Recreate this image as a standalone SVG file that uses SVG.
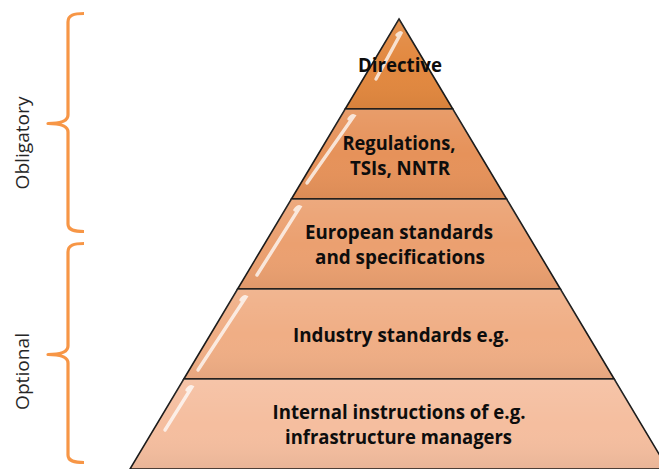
<svg xmlns="http://www.w3.org/2000/svg" width="659" height="469" viewBox="0 0 659 469">
  <defs>
    <style>
      .layer { stroke: #1a1a1a; stroke-width: 1.6; stroke-linejoin: miter; }
      .lbl { font-family: "Open Sans", "Liberation Sans", Arial, sans-serif; font-weight: bold; font-size: 20px; fill: #0d0d0d; text-anchor: middle; }
      .side { font-family: "Open Sans", "Liberation Sans", Arial, sans-serif; font-size: 18px; fill: #262626; text-anchor: middle; }
      .brace { fill: none; stroke: #F79646; stroke-width: 3.2; stroke-linecap: butt; stroke-linejoin: round; }
      .shine { fill: none; stroke: #ffffff; stroke-width: 3.4; stroke-linecap: round; opacity: 0.75; filter: url(#soft); }
    </style>
    <filter id="soft" x="-50%" y="-50%" width="200%" height="200%">
      <feGaussianBlur stdDeviation="0.7"/>
    </filter>
    <linearGradient id="shade" x1="0" y1="0" x2="0" y2="1">
      <stop offset="0" stop-color="#ffffff" stop-opacity="0.10"/>
      <stop offset="0.5" stop-color="#ffffff" stop-opacity="0"/>
      <stop offset="1" stop-color="#000000" stop-opacity="0.05"/>
    </linearGradient>
  </defs>

  <rect x="0" y="0" width="659" height="469" fill="#ffffff"/>

  <g id="layer-directive">
    <polygon class="layer" fill="#E2883F" points="399,19 452.8,109 345.2,109"/>
    <polygon fill="url(#shade)" points="399,19 452.8,109 345.2,109"/>
    <path class="shine" d="M397,35 Q400,32 401,33 L376,79"/>
    <text class="lbl" x="400" y="72" textLength="84" lengthAdjust="spacingAndGlyphs">Directive</text>
  </g>

  <g id="layer-regulations">
    <polygon class="layer" fill="#E6925A" points="345.2,109 452.8,109 506.6,199 291.4,199"/>
    <polygon fill="url(#shade)" points="345.2,109 452.8,109 506.6,199 291.4,199"/>
    <path class="shine" d="M349,119 Q352,115 354,116 L307,183"/>
    <text class="lbl"><tspan x="399" y="150" textLength="113" lengthAdjust="spacingAndGlyphs">Regulations,</tspan><tspan x="400" y="175" textLength="100" lengthAdjust="spacingAndGlyphs">TSIs, NNTR</tspan></text>
  </g>

  <g id="layer-european">
    <polygon class="layer" fill="#EBA070" points="291.4,199 506.6,199 560.4,289 237.6,289"/>
    <polygon fill="url(#shade)" points="291.4,199 506.6,199 560.4,289 237.6,289"/>
    <path class="shine" d="M295,210 Q298,206 300,207 L257,275"/>
    <text class="lbl"><tspan x="399" y="239" textLength="188" lengthAdjust="spacingAndGlyphs">European standards</tspan><tspan x="400" y="264" textLength="170" lengthAdjust="spacingAndGlyphs">and specifications</tspan></text>
  </g>

  <g id="layer-industry">
    <polygon class="layer" fill="#F0AE85" points="237.6,289 560.4,289 614.2,379 183.8,379"/>
    <polygon fill="url(#shade)" points="237.6,289 560.4,289 614.2,379 183.8,379"/>
    <path class="shine" d="M241,300 Q244,296 246,297 L198,370"/>
    <text class="lbl" x="401" y="342" textLength="216" lengthAdjust="spacingAndGlyphs">Industry standards e.g.</text>
  </g>

  <g id="layer-internal">
    <polygon class="layer" fill="#F5BE9F" points="183.8,379 614.2,379 668,469 130,469"/>
    <polygon fill="url(#shade)" points="183.8,379 614.2,379 668,469 130,469"/>
    <path class="shine" d="M187,390 Q190,386 192,387 L165,430"/>
    <text class="lbl"><tspan x="399" y="419" textLength="253" lengthAdjust="spacingAndGlyphs">Internal instructions of e.g.</tspan><tspan x="398.5" y="444" textLength="227" lengthAdjust="spacingAndGlyphs">infrastructure managers</tspan></text>
  </g>

  <g id="connectors"></g>

  <g id="bracket-obligatory">
    <path class="brace" d="M84,13.5 C74,13.5 68,15 68,22 L68,115 C68,120 64,123.5 48,123.5 C64,123.5 68,127 68,132 L68,224 C68,230 74,231.5 84,231.5"/>
    <text class="side" transform="translate(29,143) rotate(-90)" x="0" y="0" textLength="93" lengthAdjust="spacingAndGlyphs">Obligatory</text>
  </g>

  <g id="bracket-optional">
    <path class="brace" d="M84,243.5 C74,243.5 68,245 68,252 L68,346 C68,351 64,354.5 48,354.5 C64,354.5 68,358 68,363 L68,455 C68,461 74,462.5 84,462.5"/>
    <text class="side" transform="translate(29,371.5) rotate(-90)" x="0" y="0" textLength="77" lengthAdjust="spacingAndGlyphs">Optional</text>
  </g>
</svg>
